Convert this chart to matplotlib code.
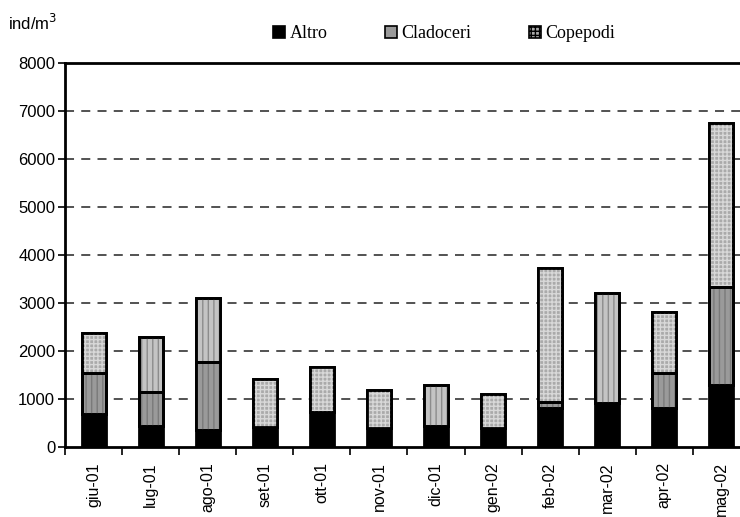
import matplotlib
matplotlib.use("Agg")
import matplotlib.pyplot as plt
from matplotlib.patches import Patch
import numpy as np

months = ["giu-01", "lug-01", "ago-01", "set-01", "ott-01", "nov-01",
          "dic-01", "gen-02", "feb-02", "mar-02", "apr-02", "mag-02"]
altro = [690, 440, 350, 420, 730, 390, 440, 400, 810, 910, 810, 1290]
cladoceri = [850, 710, 1420, 0, 0, 0, 0, 0, 130, 0, 730, 2050]
copepodi = [835, 1140, 1330, 1000, 940, 800, 850, 700, 2790, 2300, 1270, 3410]
y_ticks = [0, 1000, 2000, 3000, 4000, 5000, 6000, 7000, 8000]

# fill style of the top segment per bar ("dots" or "stripes")
top_style = ["dots", "stripes", "stripes", "dots", "dots", "dots",
             "stripes", "dots", "dots", "stripes", "dots", "dots"]

plt.rcParams["hatch.linewidth"] = 1.0

fig = plt.figure(figsize=(7.4, 5.17), dpi=100)
ax = fig.add_axes([0.0878, 0.1354, 0.9257, 0.7427])

x = np.arange(len(months))
w = 0.42
edge_lw = 2.0

altro_a = np.array(altro)
clad_a = np.array(cladoceri)
cope_a = np.array(copepodi)

# Altro (solid black)
ax.bar(x, altro_a, w, color="black", edgecolor="black", linewidth=edge_lw, zorder=3)

# Cladoceri (mid grey, vertical stripes)
for i in x:
    if clad_a[i] > 0:
        ax.bar(i, clad_a[i], w, bottom=altro_a[i], facecolor="#9a9a9a",
               edgecolor="black", linewidth=edge_lw, zorder=3)
        ax.bar(i, clad_a[i], w, bottom=altro_a[i], facecolor="none",
               edgecolor="#7a7a7a", hatch="|||", linewidth=0, zorder=3)
        ax.bar(i, clad_a[i], w, bottom=altro_a[i], facecolor="none",
               edgecolor="black", linewidth=edge_lw, zorder=4)

# Copepodi (light grey, dotted or striped)
for i in x:
    b = altro_a[i] + clad_a[i]
    if top_style[i] == "dots":
        fc, hc, h = "#aaaaaa", "#d8d8d8", "++++"
    else:
        fc, hc, h = "#c4c4c4", "#8c8c8c", "|||"
    ax.bar(i, cope_a[i], w, bottom=b, facecolor=fc, edgecolor="black",
           linewidth=edge_lw, zorder=3)
    ax.bar(i, cope_a[i], w, bottom=b, facecolor="none", edgecolor=hc,
           hatch=h, linewidth=0, zorder=3)
    ax.bar(i, cope_a[i], w, bottom=b, facecolor="none", edgecolor="black",
           linewidth=edge_lw, zorder=4)

ax.set_xlim(-0.5, len(months) - 0.5)
ax.set_ylim(0, 8000)
ax.set_yticks(y_ticks)
ax.set_yticklabels([str(v) for v in y_ticks], fontsize=12, family="Liberation Sans")

# dashed grid lines
for v in y_ticks[1:-1]:
    ax.axhline(v, color="#444444", linestyle=(0, (5, 4)), linewidth=1.3, zorder=1)

ax.set_xticks(x)
ax.set_xticklabels(months, rotation=90, fontsize=11.5, family="Liberation Sans")
ax.tick_params(axis="x", length=0, pad=11)
ax.set_xticks(np.arange(len(months)) - 0.5, minor=True)
ax.tick_params(axis="x", which="minor", length=6, width=1.2, direction="out")
ax.tick_params(axis="y", length=5, width=1.2, direction="out", pad=2)

for side in ["left", "top", "bottom"]:
    ax.spines[side].set_linewidth(2.0)
ax.spines["right"].set_visible(False)

fig.text(0.011, 0.955, "ind/m$^3$", fontsize=12, family="Liberation Sans", va="center")

handles = [
    Patch(facecolor="black", edgecolor="black", linewidth=1.2, label="Altro"),
    Patch(facecolor="#9a9a9a", edgecolor="black", linewidth=1.2, label="Cladoceri"),
    Patch(facecolor="#aaaaaa", edgecolor="black", linewidth=1.2, hatch="++++", label="Copepodi"),
]
fig.legend(handles=handles, loc="center", bbox_to_anchor=(0.6, 0.935), ncol=3,
           frameon=False, prop={"family": "Liberation Serif", "size": 13},
           handlelength=0.65, handleheight=0.65, handletextpad=0.25, columnspacing=3.2)

fig.savefig("out.png", dpi=100)
